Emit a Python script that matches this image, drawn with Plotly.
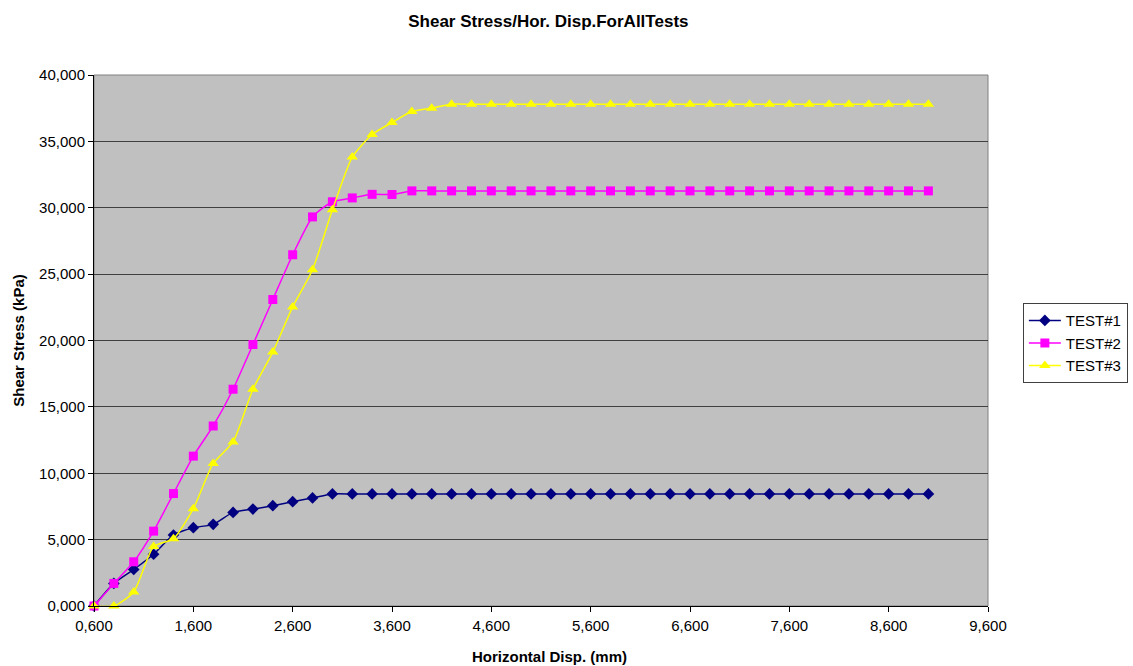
import plotly.graph_objects as go

x_disp = [0.6, 0.8, 1.0, 1.2, 1.4, 1.6, 1.8, 2.0, 2.2, 2.4, 2.6, 2.8, 3.0, 3.2, 3.4, 3.6, 3.8, 4.0,
          4.2, 4.4, 4.6, 4.8, 5.0, 5.2, 5.4, 5.6, 5.8, 6.0, 6.2, 6.4, 6.6, 6.8, 7.0, 7.2, 7.4, 7.6,
          7.8, 8.0, 8.2, 8.4, 8.6, 8.8, 9.0]

test1 = [0, 1700, 2750, 3900, 5350, 5900, 6150, 7050, 7300, 7560, 7860, 8140, 8440, 8440, 8440,
         8440, 8440, 8440, 8440, 8440, 8440, 8440, 8440, 8440, 8440, 8440, 8440, 8440, 8440, 8440,
         8440, 8440, 8440, 8440, 8440, 8440, 8440, 8440, 8440, 8440, 8440, 8440, 8440]

test2 = [0, 1700, 3330, 5640, 8470, 11290, 13560, 16330, 19700, 23090, 26460, 29310, 30450, 30740,
         31010, 31000, 31270, 31270, 31270, 31270, 31270, 31270, 31270, 31270, 31270, 31270, 31270,
         31270, 31270, 31270, 31270, 31270, 31270, 31270, 31270, 31270, 31270, 31270, 31270, 31270,
         31270, 31270, 31270]

test3 = [0, 0, 1060, 4480, 5070, 7330, 10740, 12360, 16330, 19130, 22530, 25330, 29840, 33820,
         35520, 36420, 37250, 37500, 37800, 37800, 37800, 37800, 37800, 37800, 37800, 37800, 37800,
         37800, 37800, 37800, 37800, 37800, 37800, 37800, 37800, 37800, 37800, 37800, 37800, 37800,
         37800, 37800, 37800]

series_names = ["TEST#1", "TEST#2", "TEST#3"]
series_colors = ["#000080", "#FF00FF", "#FFFF00"]
series_symbols = ["diamond", "square", "triangle-up"]
series_sizes = [9, 9, 10]

x_ticks = [0.6, 1.6, 2.6, 3.6, 4.6, 5.6, 6.6, 7.6, 8.6, 9.6]
x_ticktext = ["0,600", "1,600", "2,600", "3,600", "4,600", "5,600", "6,600", "7,600", "8,600", "9,600"]
y_ticks = [0, 5000, 10000, 15000, 20000, 25000, 30000, 35000, 40000]
y_ticktext = ["0,000", "5,000", "10,000", "15,000", "20,000", "25,000", "30,000", "35,000", "40,000"]

fig = go.Figure()
for name, ys, col, sym, sz in zip(series_names, [test1, test2, test3], series_colors,
                                  series_symbols, series_sizes):
    fig.add_trace(go.Scatter(
        x=x_disp, y=ys, name=name, mode="lines+markers", cliponaxis=False,
        line=dict(color=col, width=1.5, shape="spline", smoothing=0.6),
        marker=dict(symbol=sym, size=sz, color=col, line=dict(width=0)),
    ))

font_family = "Liberation Sans, Arial, sans-serif"
fig.update_layout(
    width=1133, height=666,
    margin=dict(l=94, r=145, t=75, b=60, autoexpand=False),
    paper_bgcolor="white",
    plot_bgcolor="#C0C0C0",
    font=dict(family=font_family, size=15, color="black"),
    title=dict(text="<b>Shear Stress/Hor. Disp.ForAllTests</b>", x=0.484, xanchor="center",
               y=0.969, yanchor="middle", font=dict(size=17, family=font_family)),
    showlegend=True,
    legend=dict(x=1.039, y=0.495, xanchor="left", yanchor="middle",
                bordercolor="#404040", borderwidth=1, bgcolor="white",
                font=dict(size=15, family=font_family), itemwidth=32, tracegroupgap=0),
    xaxis=dict(range=[0.6, 9.6], tickvals=x_ticks, ticktext=x_ticktext, automargin=False,
               showgrid=False, zeroline=False, showline=True, linecolor="black", linewidth=1,
               ticks="outside", ticklen=5, tickcolor="black", mirror=False,
               ticklabelstandoff=1, tickfont=dict(size=15)),
    yaxis=dict(range=[0, 40000], tickvals=y_ticks, ticktext=y_ticktext, automargin=False,
               showgrid=True, gridcolor="#404040", gridwidth=1, zeroline=False,
               showline=True, linecolor="black", linewidth=1,
               ticks="outside", ticklen=5, tickcolor="black",
               title=dict(text="<b>Shear Stress (kPa)</b>", font=dict(size=15), standoff=10),
               tickfont=dict(size=15)),
)
fig.add_annotation(text="<b>Horizontal Disp. (mm)</b>", xref="paper", yref="paper",
                   x=0.509, y=-0.095, xanchor="center", yanchor="middle", showarrow=False,
                   font=dict(size=15, family=font_family))
fig.add_shape(type="rect", xref="paper", yref="paper", x0=0, y0=0, x1=1, y1=1,
              line=dict(color="#808080", width=1), layer="below")

fig.write_html("out.html")
